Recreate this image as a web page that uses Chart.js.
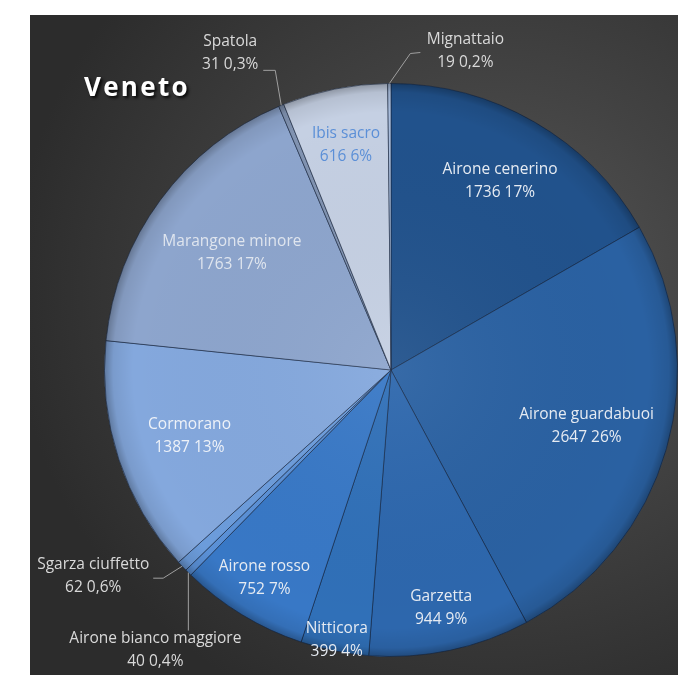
<!DOCTYPE html>
<html>
<head>
<meta charset="utf-8">
<script src="https://cdn.jsdelivr.net/npm/chart.js@4.4.1/dist/chart.umd.min.js"></script>
<style>
    html, body { margin: 0; padding: 0; background: #ffffff; overflow: hidden; }
    #wrap { position: relative; width: 678px; height: 675px; }
    #panel {
        position: absolute; left: 30px; top: 15px; right: 0; bottom: 0;
        background: radial-gradient(ellipse 75% 70% at 72% 42%, #575757 0%, #434343 45%, #2c2c2c 100%);
    }
    #title {
        position: absolute; left: 84px; top: 68px;
        font: bold 26px "Open Sans", sans-serif; letter-spacing: 2.3px;
        color: #ffffff; text-shadow: 2px 2px 3px rgba(0, 0, 0, 0.85);
    }
    canvas { position: absolute; left: 0; top: 0; }
</style>
</head>
<body>
<div id="wrap">
    <div id="panel"></div>
    <canvas id="pie" width="678" height="675"></canvas>
    <div id="title">Veneto</div>
</div>
<script>
// Species counts, clockwise from 12 o'clock
const species = [
    "Airone cenerino", "Airone guardabuoi", "Garzetta", "Nitticora", "Airone rosso",
    "Airone bianco maggiore", "Sgarza ciuffetto", "Cormorano", "Marangone minore",
    "Spatola", "Ibis sacro", "Mignattaio"
];
const counts = [1736, 2647, 944, 399, 752, 40, 62, 1387, 1763, 31, 616, 19];
// percentages as printed on the original chart
const pctLabels = ["17%", "26%", "9%", "4%", "7%", "0,4%", "0,6%", "13%", "17%", "0,3%", "6%", "0,2%"];

const sliceColors = [
    "#21528c", "#2a61a2", "#2d67ad", "#3070b8", "#3878c6",
    "#5a90d6", "#6c9cdb", "#84a8dd", "#8da5cd",
    "#8193b1", "#c5d0e3", "#a9bddc"
];
const labelColors = [
    "#e6ebf2", "#e6ebf2", "#e6ebf2", "#e6ebf2", "#e6ebf2",
    "#d9d9d9", "#d9d9d9", "#eef2f8", "#dfe5ee",
    "#d9d9d9", "#5b8fd7", "#d9d9d9"
];
// how far out (fraction of radius) each inside label sits
const labelRadius = [0.76, 0.71, 0.85, 0.96, 0.85, 0, 0, 0.74, 0.69, 0, 0.80, 0];

// leader lines for the thin slices: path offsets and text centre, from the rim point
const callouts = {
    5:  { path: [[0, 58]], text: [-33, 78] },
    6:  { path: [[-19, 12], [-29, 12]], text: [-89, 10] },
    9:  { path: [[-6, -35], [-18, -35]], text: [-51, -52] },
    11: { path: [[21, -30], [31, -31]], text: [76, -32] }
};

// darker rim to fake the bevelled look
const rimShade = {
    id: 'rimShade',
    afterDatasetsDraw(chart) {
        const arc = chart.getDatasetMeta(0).data[0];
        if (!arc) return;
        const ctx = chart.ctx;
        const R = arc.outerRadius;
        const g = ctx.createRadialGradient(arc.x, arc.y, 0, arc.x, arc.y, R);
        g.addColorStop(0, 'rgba(255,255,255,0.06)');
        g.addColorStop(0.9, 'rgba(0,0,0,0)');
        g.addColorStop(0.97, 'rgba(0,0,0,0.08)');
        g.addColorStop(1, 'rgba(0,0,0,0.28)');
        ctx.save();
        ctx.fillStyle = g;
        ctx.beginPath();
        ctx.arc(arc.x, arc.y, R, 0, Math.PI * 2);
        ctx.fill();
        ctx.restore();
    }
};

const sliceLabels = {
    id: 'sliceLabels',
    afterDatasetsDraw(chart) {
        const ctx = chart.ctx;
        const meta = chart.getDatasetMeta(0);
        ctx.save();
        ctx.font = '15.5px "Open Sans", sans-serif';
        ctx.textAlign = 'center';
        ctx.textBaseline = 'middle';
        meta.data.forEach((arc, i) => {
            const mid = (arc.startAngle + arc.endAngle) / 2;
            const line2 = counts[i] + ' ' + pctLabels[i];
            let x, y;
            const c = callouts[i];
            if (c) {
                const ex = arc.x + Math.cos(mid) * arc.outerRadius;
                const ey = arc.y + Math.sin(mid) * arc.outerRadius;
                ctx.strokeStyle = '#a0a0a0';
                ctx.lineWidth = 1;
                ctx.beginPath();
                ctx.moveTo(ex, ey);
                c.path.forEach(([dx, dy]) => ctx.lineTo(ex + dx, ey + dy));
                ctx.stroke();
                x = ex + c.text[0];
                y = ey + c.text[1];
            } else {
                const r = arc.outerRadius * labelRadius[i];
                x = arc.x + Math.cos(mid) * r;
                y = arc.y + Math.sin(mid) * r;
            }
            ctx.fillStyle = labelColors[i];
            ctx.fillText(species[i], x, y - 11.5);
            ctx.fillText(line2, x, y + 11.5);
        });
        ctx.restore();
    }
};

new Chart(document.getElementById('pie'), {
    type: 'pie',
    data: {
        labels: species,
        datasets: [{
            data: counts,
            backgroundColor: sliceColors,
            borderColor: 'rgba(20, 35, 60, 0.55)',
            borderWidth: 1
        }]
    },
    options: {
        responsive: false,
        animation: false,
        layout: { padding: { left: 104, top: 83, right: 0, bottom: 18 } },
        plugins: {
            legend: { display: false },
            tooltip: { enabled: false }
        }
    },
    plugins: [rimShade, sliceLabels]
});
</script>
</body>
</html>
